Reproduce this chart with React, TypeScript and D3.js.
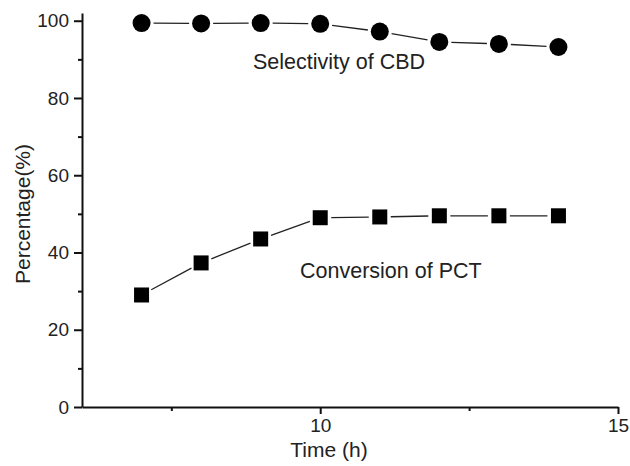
import { useEffect, useRef } from 'react';
import * as d3 from 'd3';

// data
const hours = [7, 8, 9, 10, 11, 12, 13, 14];
const selectivityCBD = [99.4, 99.3, 99.4, 99.2, 97.2, 94.5, 94.0, 93.2];
const conversionPCT = [29.0, 37.3, 43.5, 49.0, 49.2, 49.5, 49.5, 49.5];
const xMajorTicks = [10, 15];
const xMinorTicks = [7.5, 12.5];
const yMajorTicks = [0, 20, 40, 60, 80, 100];
const yMinorTicks = [10, 30, 50, 70, 90];

const App = () => {
  const svgRef = useRef<SVGSVGElement | null>(null);

  useEffect(() => {
    const width = 630;
    const height = 466;
    const margin = { top: 13, right: 10, bottom: 59, left: 82 };
    const font = 'Liberation Sans, Arial, Helvetica, sans-serif';

    const svg = d3.select(svgRef.current);
    svg.selectAll('*').remove();
    svg.attr('width', width).attr('height', height).style('font-family', font);

    const x = d3.scaleLinear().domain([6, 15]).range([margin.left, 618]);
    const y = d3.scaleLinear().domain([0, 102]).range([height - margin.bottom, margin.top]);

    const ink = '#111';

    // axes
    const xAxis = svg.append('g').attr('transform', `translate(0,${y(0)})`);
    xAxis.call(d3.axisBottom(x).tickValues(xMajorTicks).tickSize(7).tickSizeOuter(0).tickPadding(5));
    const xMinor = svg.append('g').attr('transform', `translate(0,${y(0)})`);
    xMinor.call(d3.axisBottom(x).tickValues(xMinorTicks).tickSize(4).tickSizeOuter(0).tickFormat(() => ''));
    xMinor.select('.domain').remove();

    const yAxis = svg.append('g').attr('transform', `translate(${margin.left},0)`);
    yAxis.call(d3.axisLeft(y).tickValues(yMajorTicks).tickSize(8).tickSizeOuter(0).tickPadding(5));
    const yMinor = svg.append('g').attr('transform', `translate(${margin.left},0)`);
    yMinor.call(d3.axisLeft(y).tickValues(yMinorTicks).tickSize(4).tickSizeOuter(0).tickFormat(() => ''));
    yMinor.select('.domain').remove();

    svg.selectAll('.domain').attr('stroke', ink).attr('stroke-width', 2);
    svg.selectAll('.tick line').attr('stroke', ink).attr('stroke-width', 2);
    svg.selectAll('.tick text').attr('fill', '#222').style('font-size', '19px').style('font-family', font);

    // axis titles
    svg.append('text')
      .attr('x', 329)
      .attr('y', 457)
      .attr('text-anchor', 'middle')
      .attr('fill', '#222')
      .style('font-size', '21px')
      .text('Time (h)');

    svg.append('text')
      .attr('transform', `translate(30,214) rotate(-90)`)
      .attr('text-anchor', 'middle')
      .attr('fill', '#222')
      .style('font-size', '21px')
      .text('Percentage(%)');

    // connector segments with small gaps at the markers
    const drawSegments = (vals: number[], gap: number) => {
      const pts = hours.map((h, i) => [x(h), y(vals[i])]);
      const segs = d3.pairs(pts).map(([a, b]) => {
        const dx = b[0] - a[0];
        const dy = b[1] - a[1];
        const len = Math.hypot(dx, dy);
        const ux = dx / len;
        const uy = dy / len;
        return [a[0] + ux * gap, a[1] + uy * gap, b[0] - ux * gap, b[1] - uy * gap];
      });
      svg.append('g')
        .selectAll('line')
        .data(segs)
        .join('line')
        .attr('x1', (d) => d[0])
        .attr('y1', (d) => d[1])
        .attr('x2', (d) => d[2])
        .attr('y2', (d) => d[3])
        .attr('stroke', '#222')
        .attr('stroke-width', 1.3);
    };

    drawSegments(selectivityCBD, 12);
    drawSegments(conversionPCT, 11);

    svg.append('g')
      .selectAll('circle')
      .data(hours)
      .join('circle')
      .attr('cx', (d) => x(d))
      .attr('cy', (d, i) => y(selectivityCBD[i]))
      .attr('r', 9)
      .attr('fill', '#000');

    const s = 15;
    svg.append('g')
      .selectAll('rect')
      .data(hours)
      .join('rect')
      .attr('x', (d) => x(d) - s / 2)
      .attr('y', (d, i) => y(conversionPCT[i]) - s / 2)
      .attr('width', s)
      .attr('height', s)
      .attr('fill', '#000');

    // series labels
    svg.append('text')
      .attr('x', 253)
      .attr('y', 69)
      .attr('fill', '#222')
      .style('font-size', '21.5px')
      .text('Selectivity of CBD');

    svg.append('text')
      .attr('x', 300)
      .attr('y', 278)
      .attr('fill', '#222')
      .style('font-size', '21.5px')
      .text('Conversion of PCT');
  }, []);

  return <svg ref={svgRef} style={{ position: 'absolute', left: 0, top: 0 }} />;
};

export default App;
